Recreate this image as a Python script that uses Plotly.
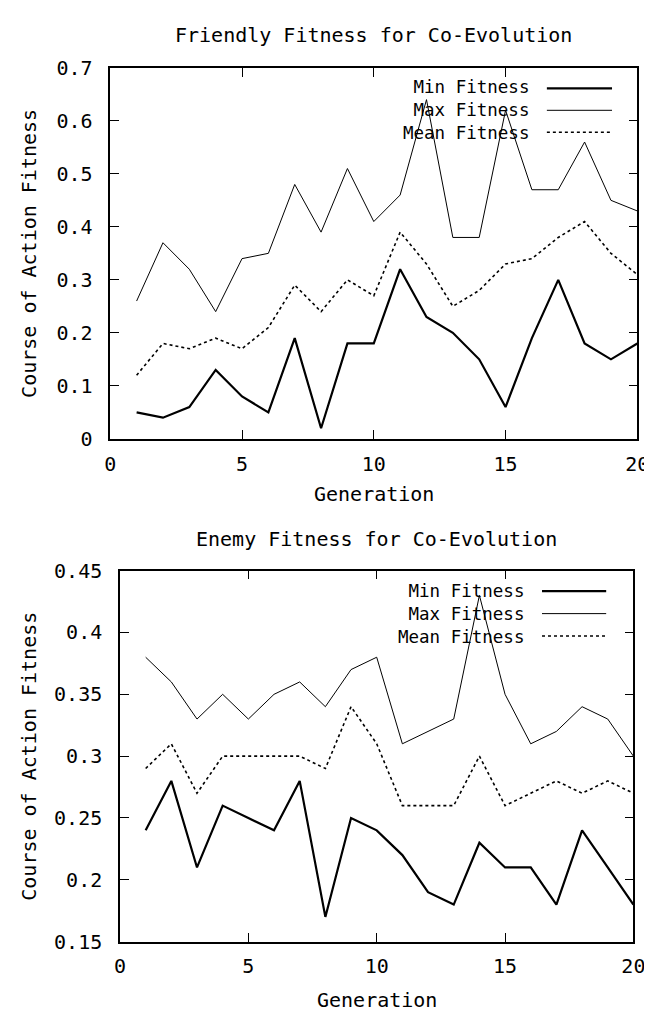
import plotly.graph_objects as go

generations = list(range(1, 21))

friendly_min = [0.05, 0.04, 0.06, 0.13, 0.08, 0.05, 0.19, 0.02, 0.18, 0.18,
                0.32, 0.23, 0.20, 0.15, 0.06, 0.19, 0.30, 0.18, 0.15, 0.18]
friendly_max = [0.26, 0.37, 0.32, 0.24, 0.34, 0.35, 0.48, 0.39, 0.51, 0.41,
                0.46, 0.64, 0.38, 0.38, 0.62, 0.47, 0.47, 0.56, 0.45, 0.43]
friendly_mean = [0.12, 0.18, 0.17, 0.19, 0.17, 0.21, 0.29, 0.24, 0.30, 0.27,
                 0.39, 0.33, 0.25, 0.28, 0.33, 0.34, 0.38, 0.41, 0.35, 0.31]

enemy_min = [0.24, 0.28, 0.21, 0.26, 0.25, 0.24, 0.28, 0.17, 0.25, 0.24,
             0.22, 0.19, 0.18, 0.23, 0.21, 0.21, 0.18, 0.24, 0.21, 0.18]
enemy_max = [0.38, 0.36, 0.33, 0.35, 0.33, 0.35, 0.36, 0.34, 0.37, 0.38,
             0.31, 0.32, 0.33, 0.43, 0.35, 0.31, 0.32, 0.34, 0.33, 0.30]
enemy_mean = [0.29, 0.31, 0.27, 0.30, 0.30, 0.30, 0.30, 0.29, 0.34, 0.31,
              0.26, 0.26, 0.26, 0.30, 0.26, 0.27, 0.28, 0.27, 0.28, 0.27]

series_names = ["Min Fitness", "Max Fitness", "Mean Fitness"]
titles = ["Friendly Fitness for Co-Evolution", "Enemy Fitness for Co-Evolution"]
x_title = "Generation"
y_title = "Course of Action Fitness"
x_ticks = [0, 5, 10, 15, 20]
friendly_y_ticks = [0, 0.1, 0.2, 0.3, 0.4, 0.5, 0.6, 0.7]
enemy_y_ticks = [0.15, 0.2, 0.25, 0.3, 0.35, 0.4, 0.45]

W, H = 652, 1014
FONT = "DejaVu Sans Mono"
FS = 20
LEG_FS = 17.5

styles = [
    dict(color="black", width=2.2, dash="solid"),
    dict(color="black", width=1.0, dash="solid"),
    dict(color="black", width=1.6, dash="dot"),
]

fig = go.Figure()

panels = [
    dict(xa="x", ya="y", xax="xaxis", yax="yaxis",
         data=[friendly_min, friendly_max, friendly_mean],
         px=(99, 641), py=(49, 429), yrange=[0, 0.7], yticks=friendly_y_ticks,
         title_y=15, xtitle_y=485, legend_text_right=532, legend_line=(548, 615),
         legend_rows=(70, 92.5, 115)),
    dict(xa="x2", ya="y2", xax="xaxis2", yax="yaxis2",
         data=[enemy_min, enemy_max, enemy_mean],
         px=(109, 637), py=(564, 944), yrange=[0.15, 0.45], yticks=enemy_y_ticks,
         title_y=532, xtitle_y=1004, legend_text_right=527, legend_line=(543, 609),
         legend_rows=(585, 608, 631)),
]

annotations = []
shapes = []
layout_axes = {}

for i, p in enumerate(panels):
    for name, vals, st in zip(series_names, p["data"], styles):
        fig.add_trace(go.Scatter(x=generations, y=vals, mode="lines", name=name,
                                 line=st, xaxis=p["xa"], yaxis=p["ya"],
                                 showlegend=False))
    x0, x1 = p["px"]
    y0, y1 = p["py"]
    axis_common = dict(showline=True, linecolor="black", linewidth=1.5,
                       mirror="ticks", ticks="inside", ticklen=9, tickwidth=1.2,
                       tickcolor="black", showgrid=False, zeroline=False,
                       tickfont=dict(family=FONT, size=FS, color="black"))
    layout_axes[p["xax"]] = dict(axis_common, domain=[x0 / W, x1 / W], range=[0, 20],
                                 tickvals=x_ticks, anchor=p["ya"],
                                 ticklabelstandoff=6)
    layout_axes[p["yax"]] = dict(axis_common, domain=[1 - y1 / H, 1 - y0 / H],
                                 range=p["yrange"], tickvals=p["yticks"],
                                 anchor=p["xa"], ticklabelstandoff=12)
    cx = (x0 + x1) / 2 / W
    annotations.append(dict(text=titles[i], x=cx, y=1 - p["title_y"] / H,
                            xref="paper", yref="paper", showarrow=False,
                            xanchor="center", yanchor="middle",
                            font=dict(family=FONT, size=FS, color="black")))
    annotations.append(dict(text=x_title, x=cx, y=1 - p["xtitle_y"] / H,
                            xref="paper", yref="paper", showarrow=False,
                            xanchor="center", yanchor="middle",
                            font=dict(family=FONT, size=FS, color="black")))
    annotations.append(dict(text=y_title, x=16 / W, y=1 - (y0 + y1) / 2 / H,
                            xref="paper", yref="paper", showarrow=False,
                            textangle=-90, xanchor="center", yanchor="middle",
                            font=dict(family=FONT, size=FS, color="black")))
    rows = p["legend_rows"]
    annotations.append(dict(text="<br>".join(series_names),
                            x=p["legend_text_right"] / W, y=1 - rows[1] / H,
                            xref="paper", yref="paper", showarrow=False,
                            xanchor="right", yanchor="middle", align="right",
                            font=dict(family=FONT, size=LEG_FS, color="black")))
    for st, ry in zip(styles, rows):
        lx0, lx1 = p["legend_line"]
        shapes.append(dict(type="line", xref="paper", yref="paper",
                           x0=lx0 / W, x1=lx1 / W, y0=1 - ry / H, y1=1 - ry / H,
                           line=st))

fig.update_layout(
    width=W, height=H,
    margin=dict(l=0, r=0, t=0, b=0),
    paper_bgcolor="white", plot_bgcolor="white",
    annotations=annotations, shapes=shapes,
    **layout_axes,
)

fig.write_html("out.html")
